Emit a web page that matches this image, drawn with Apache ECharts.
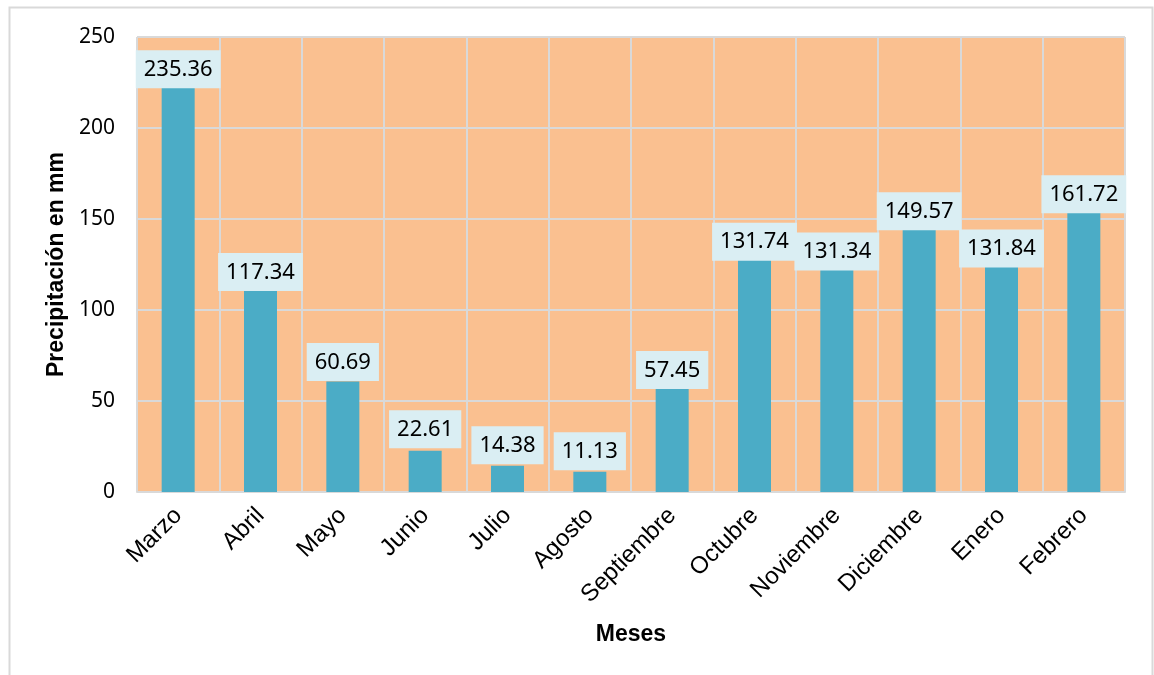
<!DOCTYPE html>
<html>
<head>
<meta charset="utf-8">
<script src="https://cdn.jsdelivr.net/npm/echarts@6/dist/echarts.min.js"></script>
<style>
html,body{margin:0;padding:0;background:#fff;}
#chart{width:1154px;height:675px;}
</style>
</head>
<body>
<div id="chart"></div>
<script>
const months = ['Marzo','Abril','Mayo','Junio','Julio','Agosto','Septiembre','Octubre','Noviembre','Diciembre','Enero','Febrero'];
const precipitation = [235.36, 117.34, 60.69, 22.61, 14.38, 11.13, 57.45, 131.74, 131.34, 149.57, 131.84, 161.72];
const yTicks = [0, 50, 100, 150, 200, 250];
// vertical shift (px) of each value label box, as placed in the original chart
const labelDrop = [26, 14, 1, -1, 0, 0, 3, 10, 19, 12, 17, 17];

const chart = echarts.init(document.getElementById('chart'));
const option = {
  backgroundColor: '#ffffff',
  animation: false,
  graphic: [{
    type: 'rect',
    shape: { x: 9.5, y: 7.5, width: 1143, height: 680 },
    style: { fill: 'none', stroke: '#d9d9d9', lineWidth: 2 },
    silent: true
  }],
  grid: {
    left: 137, right: 29, top: 37, bottom: 183,
    show: true, backgroundColor: '#FAC090', borderWidth: 0
  },
  xAxis: {
    type: 'category',
    data: months,
    name: 'Meses',
    nameLocation: 'middle',
    nameGap: 131,
    nameTextStyle: { fontFamily: 'Liberation Sans, Arial, sans-serif', fontWeight: 'bold', fontSize: 23, color: '#000' },
    axisLine: { show: true, lineStyle: { color: '#d9d9d9', width: 2 } },
    axisTick: { show: false },
    splitLine: { show: true, interval: 0, lineStyle: { color: '#d9d9d9', width: 2 } },
    axisLabel: {
      interval: 0, rotate: 45, margin: 20,
      fontFamily: 'Liberation Sans, Arial, sans-serif', fontSize: 24, color: '#000'
    }
  },
  yAxis: {
    type: 'value',
    min: yTicks[0], max: yTicks[yTicks.length - 1], interval: yTicks[1] - yTicks[0],
    name: 'Precipitación en mm',
    nameLocation: 'middle',
    nameGap: 67,
    nameTextStyle: { fontFamily: 'Liberation Sans, Arial, sans-serif', fontWeight: 'bold', fontSize: 23, color: '#000' },
    axisLine: { show: false },
    axisTick: { show: false },
    splitLine: { show: true, lineStyle: { color: '#d9d9d9', width: 2 } },
    axisLabel: { margin: 22, fontFamily: 'Noto Sans, sans-serif', fontSize: 21, color: '#000' }
  },
  series: [{
    type: 'bar',
    barWidth: 33,
    itemStyle: { color: '#4BACC6' },
    data: precipitation.map((v, i) => ({
      value: v,
      label: { offset: [0, labelDrop[i]] }
    })),
    label: {
      show: true,
      position: 'top',
      distance: 1.5,
      formatter: p => p.value.toFixed(2),
      fontFamily: 'Noto Sans, sans-serif',
      fontSize: 22,
      lineHeight: 23,
      color: '#000',
      backgroundColor: '#DAEEF3',
      padding: [8, 8, 7, 8]
    }
  }]
};
chart.setOption(option);
</script>
</body>
</html>
